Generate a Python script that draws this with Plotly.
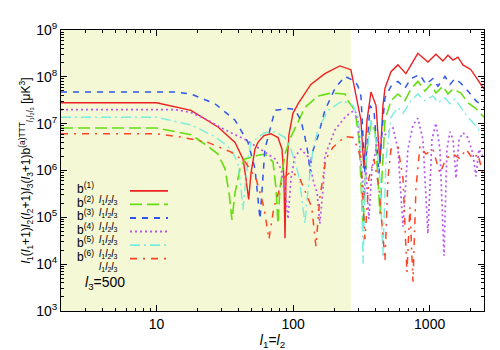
import plotly.graph_objects as go

# ---- data ----
shade_l = [2, 265]

l_b1 = [2, 10, 17.9, 28.2, 37.6, 43.0, 45.2, 47.3, 49.2, 52.6, 55.3, 61.2, 68.9, 77.6, 83.0, 85.7, 87.3,
        88.8, 93.3, 99.8, 109, 135, 171, 220, 265, 289, 314, 330, 348, 372, 405, 433, 455, 471, 521,
        586, 670, 820, 971, 1112, 1250, 1361, 1482, 1611, 1754, 2005, 2256, 2500]
v_b1 = [2.8e7, 2.8e7, 1.92e7, 8.5e6, 3.98e6, 1.77e6, 6.8e5, 2.4e5, 8.7e5, 2.85e6, 3.98e6, 5.56e6, 6.1e6,
        5.05e6, 2.85e6, 6.8e5, 3.56e4, 6.8e5, 5.8e6, 1.66e7, 2.67e7, 6.9e7, 1.17e8, 1.71e8, 1.42e8, 4.3e7,
        1.19e7, 1.1e6, 1.19e7, 4.74e7, 2.43e7, 1.4e6, 2.43e7, 5.7e7, 1.29e8, 1.8e8, 1.17e8, 3.18e8, 2.07e8,
        3.04e8, 2.18e8, 2.9e8, 2.28e8, 2.64e8, 1.8e8, 1.42e8, 8.8e7, 5.5e7]

l_b2 = [2, 10, 17.9, 23.8, 28.2, 31.7, 34.0, 35.7, 37.6, 40.9, 44.5, 52.6, 62.2, 71.3, 75.0, 77.6, 80.2,
        87.3, 96.6, 122, 152, 190, 240, 252, 284, 304, 325, 348, 372, 398, 433, 455, 471, 521, 586, 659,
        729, 820, 923, 1021, 1112, 1250, 1361, 1482, 1694, 1906, 2183, 2500]
v_b2 = [8.1e6, 8.1e6, 5.8e6, 3.3e6, 2.25e6, 1.1e6, 3.34e5, 8.8e4, 3.34e5, 1.1e6, 1.77e6, 2.04e6, 2.25e6,
        1.53e6, 4.2e5, 7.3e4, 4.2e5, 2.25e6, 5.3e6, 2.2e7, 3.9e7, 4.5e7, 4.3e7, 3.1e7, 1.92e7, 4.6e6, 6.3e4,
        2.85e6, 1.03e7, 7.4e6, 1.17e5, 2.85e6, 1.19e7, 3.1e7, 4.3e7, 3.1e7, 5.5e7, 8.0e7, 4.97e7, 6.9e7,
        4.5e7, 6.3e7, 4.3e7, 5.5e7, 4.5e7, 2.8e7, 2.1e7, 1.37e7]

l_b3 = [2, 13.6, 17.9, 26.8, 37.6, 46.8, 52.6, 57.3, 62.2, 68.9, 73.7, 91.8, 103, 114, 122, 129, 133, 137,
        152, 171, 203, 240, 284, 299, 314, 336, 366, 391, 426, 455, 471, 521, 586, 659, 729, 849, 939, 1057,
        1150, 1294, 1409, 1532, 1694, 1906, 2183, 2500]
v_b3 = [4.74e7, 4.74e7, 4.3e7, 2.67e7, 1.19e7, 3.98e6, 1.1e6, 9.2e4, 2.85e6, 9.4e6, 1.92e7, 2.1e7, 2.0e7,
        1.19e7, 5.3e6, 2.25e6, 8.7e5, 2.25e6, 5.3e6, 1.92e7, 5.7e7, 1.02e8, 8.0e7, 6.3e7, 3.9e7, 8.7e5,
        2.43e7, 1.92e7, 8.7e5, 1.19e7, 3.56e7, 6.3e7, 8.0e7, 5.7e7, 9.2e7, 1.12e8, 6.9e7, 9.2e7, 6.3e7,
        1.02e8, 6.9e7, 9.2e7, 7.3e7, 4.97e7, 3.1e7, 2.2e7]

l_b4 = [2, 13.6, 17.9, 23.8, 31.7, 44.5, 62.2, 73.7, 81.5, 87.3, 91.8, 96.6, 103, 114, 129, 142, 150, 157,
        166, 171, 203, 240, 265, 284, 299, 314, 330, 342, 359, 378, 419, 471, 539, 586, 638, 693, 755, 820,
        893, 971, 1040, 1112, 1189, 1273, 1339, 1409, 1482, 1560, 1640, 1754, 1906, 2075, 2183, 2296, 2500]
v_b4 = [2.0e7, 2.0e7, 1.74e7, 1.19e7, 7.4e6, 4.6e6, 2.47e6, 1.77e6, 1.1e6, 4.2e5, 9.2e4, 6.8e5, 1.95e6,
        2.85e6, 1.95e6, 5.4e5, 3.34e5, 7.3e4, 4.2e5, 2.04e6, 7.4e6, 1.37e7, 1.74e7, 1.92e7, 1.19e7, 1.77e6,
        2.63e5, 1.1e6, 9.2e4, 1.1e6, 4.6e6, 5.8e6, 8.1e6, 2.85e6, 6.3e4, 2.85e6, 9.4e6, 1.31e7, 4.6e6,
        4.5e4, 4.6e6, 1.03e7, 2.85e6, 1.51e4, 2.85e6, 6.7e6, 4.6e6, 6.8e5, 4.6e6, 6.4e6, 5.05e6, 2.25e6,
        7.5e5, 2.85e6, 1.77e6]

l_b5 = [2, 10, 17.9, 26.8, 35.2, 39.5, 41.6, 43.0, 44.5, 46.8, 49.2, 62.2, 73.7, 87.3, 96.6, 109, 116, 122,
        129, 140, 152, 180, 232, 275, 299, 314, 325, 342, 372, 405, 433, 455, 479, 521, 586, 638, 729, 820,
        923, 1057, 1150, 1294, 1409, 1532, 1694, 1906, 2147, 2500]
v_b5 = [1.37e7, 1.37e7, 9.4e6, 5.3e6, 2.85e6, 1.4e6, 4.2e5, 1.42e5, 4.2e5, 1.77e6, 3.98e6, 6.4e6, 6.7e6,
        5.05e6, 2.85e6, 8.7e5, 2.63e5, 7.3e4, 4.2e5, 2.85e6, 7.4e6, 1.92e7, 3.1e7, 2.43e7, 1.37e7, 4.6e6,
        1.03e4, 1.77e6, 1.19e7, 4.6e6, 6.8e5, 1.51e4, 1.77e6, 1.37e7, 2.2e7, 1.66e7, 3.1e7, 4.3e7, 3.1e7,
        3.9e7, 2.8e7, 3.56e7, 2.67e7, 3.4e7, 2.2e7, 1.37e7, 9.4e6, 5.3e6]

l_b6 = [2, 10, 14.4, 23.8, 35.2, 44.5, 53.5, 61.2, 66.6, 72.4, 84.3, 96.6, 112, 129, 137, 147, 157, 174,
        196, 240, 275, 299, 314, 336, 359, 391, 426, 471, 495, 521, 586, 638, 682, 717, 755, 794, 849, 939,
        1057, 1189, 1315, 1482, 1667, 1845, 2075, 2256, 2500]
v_b6 = [6.1e6, 6.1e6, 5.3e6, 3.98e6, 2.47e6, 1.53e6, 6.8e5, 1.64e5, 3.4e4, 1.64e5, 6.8e5, 9.5e5, 6.8e5,
        2.63e5, 1.64e5, 2.43e4, 2.63e5, 1.77e6, 3.13e6, 5.3e6, 5.05e6, 2.85e6, 1.77e6, 3.4e4, 6.8e5, 1.77e6,
        4.2e5, 1.19e4, 6.8e5, 2.85e6, 3.13e6, 6.8e5, 6.7e3, 1.64e5, 4.2e3, 4.2e5, 3.3e6, 2.25e6, 2.85e6,
        8.7e5, 1.77e6, 2.25e6, 1.77e6, 2.85e6, 1.77e6, 2.25e6, 6.8e5]

labels = ["(1)", "(2)", "(3)", "(4)", "(5)", "(6)"]
colors = ["#ee2020", "#66dd11", "#2f55ee", "#b855ee", "#77eedd", "#ff4422"]
dashes = ["solid", "12px,5px", "6px,6px", "2px,3px", "10px,4px,2px,4px", "7px,6px,2px,6px"]
widths = [1.4, 1.6, 1.5, 1.7, 1.4, 1.5]
ls = [l_b1, l_b2, l_b3, l_b4, l_b5, l_b6]
vs = [v_b1, v_b2, v_b3, v_b4, v_b5, v_b6]

y_ticks = [1e3, 1e4, 1e5, 1e6, 1e7, 1e8, 1e9]
y_ticktext = ["10<sup>%d</sup>" % k for k in range(3, 10)]
x_ticks = [10, 100, 1000]
x_ticktext = ["10", "100", "1000"]

fig = go.Figure()
# shaded region
fig.add_trace(go.Scatter(x=[shade_l[0], shade_l[1], shade_l[1], shade_l[0]],
                         y=[1e3, 1e3, 1e9, 1e9], fill="toself", fillcolor="#f5f8d5",
                         line=dict(width=0), mode="lines", hoverinfo="skip", showlegend=False))
for i in range(6):
    fig.add_trace(go.Scatter(x=ls[i], y=vs[i], mode="lines",
                             line=dict(color=colors[i], dash=dashes[i], width=widths[i]),
                             name="b" + labels[i], showlegend=False))

# manual legend (text left of sample, gnuplot style)
W, H, L, T = 500, 350, 53, 17
PW, PH = 423, 290
def px(x):
    return (x - L) / PW
def py(y):
    return (T + PH - y) / PH

row_y = [183, 197, 211, 225, 239, 253]
ann = []
shapes = []
sub = "<i>l</i><sub>1</sub><i>l</i><sub>2</sub><i>l</i><sub>3</sub>"
for i in range(6):
    ann.append(dict(x=px(87), y=py(row_y[i] - 3), xref="paper", yref="paper",
                    text="b<sup>" + labels[i] + "</sup>", showarrow=False, borderpad=0,
                    xanchor="right", yanchor="middle", font=dict(size=12, color="black")))
    ann.append(dict(x=px(90), y=py(row_y[i] + 9), xref="paper", yref="paper",
                    text=sub, showarrow=False, xanchor="left", yanchor="middle", borderpad=0,
                    font=dict(size=10, color="black")))
    shapes.append(dict(type="line", xref="paper", yref="paper",
                       x0=px(122), x1=px(160), y0=py(row_y[i]), y1=py(row_y[i]),
                       line=dict(color=colors[i], dash=dashes[i], width=widths[i] + 0.3)))
ann.append(dict(x=px(76), y=py(278), xref="paper", yref="paper",
                text="<i>l</i><sub>3</sub>=500", showarrow=False, xanchor="left", borderpad=0,
                yanchor="middle", font=dict(size=14, color="black")))

fig.update_layout(
    width=W, height=H,
    margin=dict(l=L, r=W - L - PW, t=T, b=H - T - PH),
    paper_bgcolor="white", plot_bgcolor="white",
    font=dict(family="Liberation Sans, Arial, sans-serif", size=14, color="black"),
    annotations=ann, shapes=shapes, showlegend=False,
)
fig.update_xaxes(type="log", range=[0.30103, 3.39794], tickvals=x_ticks, ticktext=x_ticktext,
                 ticks="inside", ticklen=6, tickcolor="black", showline=True, linecolor="black",
                 linewidth=1, mirror="allticks", showgrid=False, zeroline=False,
                 tickfont=dict(size=14),
                 minor=dict(ticks="inside", ticklen=3, tickcolor="black",
                            tickvals=[2, 3, 4, 5, 6, 7, 8, 9, 20, 30, 40, 50, 60, 70, 80, 90,
                                      200, 300, 400, 500, 600, 700, 800, 900, 2000]),
                 title=dict(text="<i>l</i><sub>1</sub>=<i>l</i><sub>2</sub>", standoff=4,
                            font=dict(size=14)))
fig.update_yaxes(type="log", range=[3, 9], tickvals=y_ticks, ticktext=y_ticktext,
                 ticks="inside", ticklen=6, tickcolor="black", showline=True, linecolor="black",
                 linewidth=1, mirror="allticks", showgrid=False, zeroline=False,
                 tickfont=dict(size=14),
                 minor=dict(ticks="inside", ticklen=3, tickcolor="black",
                            tickvals=[m * 10 ** k for k in range(3, 9) for m in (2, 3, 4, 5, 6, 7, 8, 9)]),
                 title=dict(text="<i>l</i><sub>1</sub>(<i>l</i><sub>1</sub>+1)<i>l</i><sub>2</sub>"
                                 "(<i>l</i><sub>2</sub>+1)<i>l</i><sub>3</sub>(<i>l</i><sub>3</sub>+1)"
                                 "b<sup>(a)TTT</sup><sub><i>l</i>₁<i>l</i>₂<i>l</i>₃</sub> [μK<sup>3</sup>]",
                            standoff=2, font=dict(size=12)))

fig.write_html("out.html")
